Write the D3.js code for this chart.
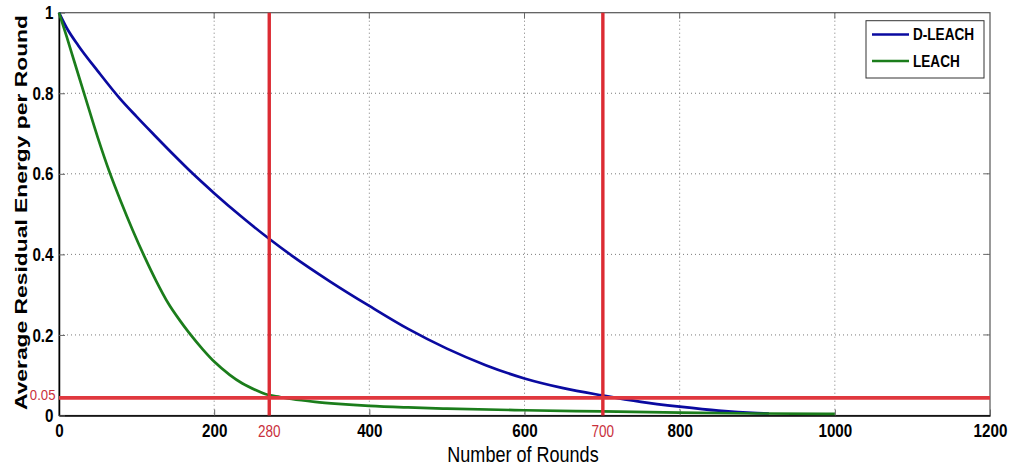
<!DOCTYPE html>
<html><head><meta charset="utf-8">
<script src="https://cdn.jsdelivr.net/npm/d3@7"></script>
<style>
html,body{margin:0;padding:0;background:#fff;}
svg{display:block;}
text{font-family:"Liberation Sans",Arial,sans-serif;}
</style></head>
<body>
<svg id="chart" width="1016" height="470"></svg>
<script>
// ---- data ----
const dleachRounds = [0,10,25,50,78,100,124,150,170,200,235,270,300,350,400,450,500,550,600,650,700,750,800,850,900,915];
const dleachEnergy = [1,0.962,0.918,0.855,0.788,0.742,0.694,0.643,0.605,0.552,0.494,0.44,0.397,0.332,0.272,0.215,0.166,0.125,0.092,0.068,0.05,0.034,0.022,0.012,0.006,0.005];
const leachRounds = [0,10,20,35,50,65,80,95,110,125,141,155,167,185,201,220,236,255,268,285,300,330,360,400,450,500,600,700,800,900,1000];
const leachEnergy = [1,0.94,0.877,0.783,0.69,0.605,0.53,0.46,0.395,0.335,0.278,0.238,0.207,0.165,0.132,0.101,0.08,0.062,0.052,0.046,0.041,0.034,0.029,0.024,0.02,0.017,0.013,0.01,0.007,0.005,0.004];
const seriesNames = ["D-LEACH","LEACH"];
const xTicks = [0,200,400,600,800,1000,1200];
const yTicks = [0,0.2,0.4,0.6,0.8,1];
const yTickLabels = ["0","0.2","0.4","0.6","0.8","1"];
const markerRounds = [271,701];
const markerRoundLabels = ["280","700"];
const markerEnergy = 0.044;
const markerEnergyLabel = "0.05";

// ---- layout ----
const svg = d3.select("#chart");
const L = 59, R = 990, T = 12.7, B = 415.5;
const x = d3.scaleLinear().domain([0,1200]).range([L,R]);
const y = d3.scaleLinear().domain([0,1]).range([B,T]);
const colors = ["#0a0aa0","#1b7d1b"];
const red = "#dc2b33";
const redText = "#c9303c";

// horizontally condensed text helper
function narrowText(sel, tx, ty, sx){
  return sel.attr("x", tx/sx).attr("y", ty).attr("transform", `scale(${sx},1)`);
}

// grid
const grid = svg.append("g");
grid.selectAll("line.gx").data(xTicks.filter(d=>d>0&&d<1200)).enter().append("line")
  .attr("x1",d=>x(d)).attr("x2",d=>x(d)).attr("y1",T).attr("y2",B)
  .attr("stroke","#7a7a7a").attr("stroke-width",1).attr("stroke-dasharray","1,3");
grid.selectAll("line.gy").data(yTicks.filter(d=>d>0&&d<1)).enter().append("line")
  .attr("y1",d=>y(d)).attr("y2",d=>y(d)).attr("x1",L).attr("x2",R)
  .attr("stroke","#7a7a7a").attr("stroke-width",1).attr("stroke-dasharray","1,3");

// frame
svg.append("rect").attr("x",L).attr("y",T).attr("width",R-L).attr("height",B-T)
  .attr("fill","none").attr("stroke","#555").attr("stroke-width",1.2);

// axes (inward ticks)
const xAxis = d3.axisBottom(x).tickValues(xTicks).tickSizeInner(-6).tickSizeOuter(0).tickFormat(d3.format("d"));
const gx = svg.append("g").attr("transform",`translate(0,${B})`).call(xAxis);
gx.select(".domain").attr("stroke","#000").attr("stroke-width",1.5);
gx.selectAll(".tick line").attr("stroke","#666");
gx.selectAll(".tick text").attr("dy",null).attr("font-size",19).attr("font-weight","bold").attr("fill","#000")
  .each(function(){ narrowText(d3.select(this), 0, 22, 0.8); });

const yAxis = d3.axisLeft(y).tickValues(yTicks).tickSizeInner(-6).tickSizeOuter(0)
  .tickFormat((d,i)=>yTickLabels[i]);
const gy = svg.append("g").attr("transform",`translate(${L},0)`).call(yAxis);
gy.select(".domain").attr("stroke","#000").attr("stroke-width",1.5);
gy.selectAll(".tick line").attr("stroke","#666");
gy.selectAll(".tick text").attr("font-size",19).attr("font-weight","bold").attr("fill","#000")
  .each(function(){ narrowText(d3.select(this), -5.5, 0, 0.8); });

// top/right ticks
svg.append("g").selectAll("line").data(xTicks.filter(d=>d>0&&d<1200)).enter().append("line")
  .attr("x1",d=>x(d)).attr("x2",d=>x(d)).attr("y1",T).attr("y2",T+6).attr("stroke","#666");
svg.append("g").selectAll("line").data(yTicks.filter(d=>d>0&&d<1)).enter().append("line")
  .attr("y1",d=>y(d)).attr("y2",d=>y(d)).attr("x1",R).attr("x2",R-6).attr("stroke","#666");

// series
const line = d3.line().x(d=>x(d[0])).y(d=>y(d[1])).curve(d3.curveMonotoneX);
const series = [d3.zip(dleachRounds,dleachEnergy), d3.zip(leachRounds,leachEnergy)];
svg.append("g").selectAll("path").data(series).enter().append("path")
  .attr("d",line).attr("fill","none").attr("stroke",(d,i)=>colors[i]).attr("stroke-width",2.7)
  .attr("stroke-linejoin","round");

// red markers
svg.append("g").selectAll("line").data(markerRounds).enter().append("line")
  .attr("x1",d=>x(d)).attr("x2",d=>x(d)).attr("y1",T).attr("y2",B)
  .attr("stroke",red).attr("stroke-width",3.4);
svg.append("line").attr("x1",L).attr("x2",R).attr("y1",y(markerEnergy)).attr("y2",y(markerEnergy))
  .attr("stroke","#e0383f").attr("stroke-width",3.8);
svg.append("g").selectAll("text").data(markerRounds).enter().append("text")
  .attr("text-anchor","middle").attr("font-size",16.5).attr("fill",redText)
  .each(function(d){ narrowText(d3.select(this), x(d), 437, 0.82); })
  .text((d,i)=>markerRoundLabels[i]);
narrowText(svg.append("text"), L-3.5, 400, 0.85)
  .attr("text-anchor","end").attr("font-size",15.5).attr("fill",redText).text(markerEnergyLabel);

// axis titles
narrowText(svg.append("text"), 523, 462.5, 0.82).attr("text-anchor","middle")
  .attr("font-size",22).attr("fill","#000").text("Number of Rounds");
svg.append("text").attr("transform",`translate(26.5,212.5) rotate(-90)`).attr("text-anchor","middle")
  .attr("font-weight","bold").attr("font-size",16.5)
  .attr("textLength",395).attr("lengthAdjust","spacingAndGlyphs")
  .attr("fill","#000").text("Average Residual Energy per Round");

// legend
const lg = svg.append("g");
lg.append("rect").attr("x",866).attr("y",20.7).attr("width",118).attr("height",57.3)
  .attr("fill","#fff").attr("stroke","#333").attr("stroke-width",1);
seriesNames.forEach((n,i)=>{
  const yy = 34.5 + i*26.5;
  lg.append("line").attr("x1",872).attr("x2",909).attr("y1",yy).attr("y2",yy)
    .attr("stroke",colors[i]).attr("stroke-width",2.7);
  narrowText(lg.append("text"), 913, yy+6, 0.8).attr("font-size",17)
    .attr("font-weight","bold").attr("fill","#000").text(n);
});
</script>
</body></html>
